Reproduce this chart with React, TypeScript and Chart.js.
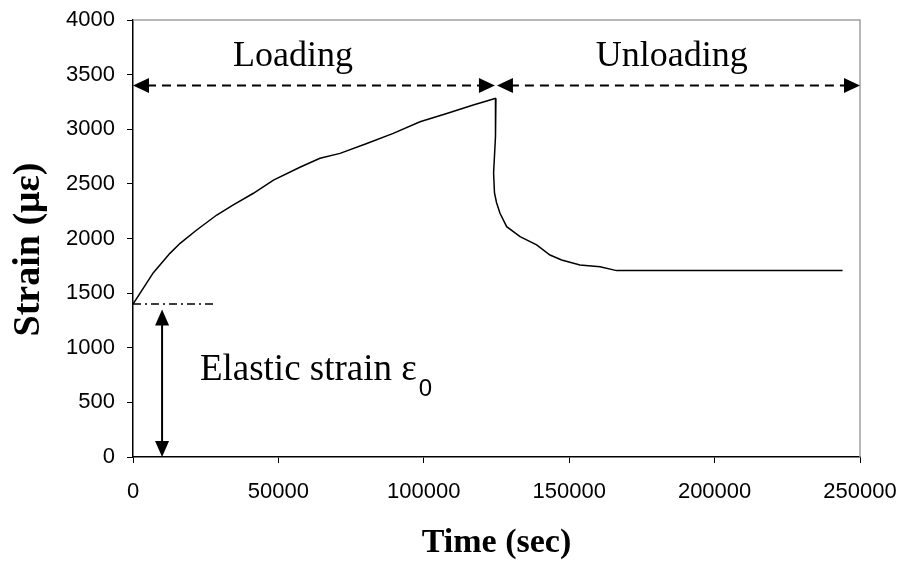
import React, { useEffect, useRef } from "react";
import { Chart, registerables } from "chart.js";

Chart.register(...registerables);

// ---- Data ----
const loadTime = [0, 7000, 12700, 16200, 21900, 28800, 34500, 41400, 48300, 57400, 64300, 71200, 80400, 89500, 98700, 107900, 117000, 124800];
const loadStrain = [1400, 1687, 1864, 1956, 2078, 2215, 2307, 2414, 2535, 2652, 2734, 2779, 2870, 2962, 3069, 3145, 3222, 3283];
const unloadTime = [124800, 124800, 124500, 124000, 124300, 125000, 126200, 128500, 133100, 138800, 143400, 147400, 153700, 160600, 166300, 244000];
const unloadStrain = [3283, 3146, 2932, 2600, 2420, 2330, 2231, 2108, 2017, 1941, 1849, 1803, 1757, 1742, 1706, 1706];

const xTicks = [0, 50000, 100000, 150000, 200000, 250000];
const yTicks = [0, 500, 1000, 1500, 2000, 2500, 3000, 3500, 4000];

// ---- Annotation anchors (data units) ----
const phaseArrowY = 3400;
const phaseBoundary = 124800;
const phaseEnd = 250000;
const phaseLabels = ["Loading", "Unloading"];
const phaseLabelX = [55000, 185300];
const phaseLabelY = 3580;
const elasticStrain = 1400;
const elasticDashEnd = 28800;
const elasticArrowX = 10000;
const elasticArrowTop = 1350;
const elasticLabel = "Elastic strain \u03b5";
const elasticSub = "0";
const elasticLabelX = 23000;
const elasticLabelY = 705;

const xTitle = "Time (sec)";
const yTitle = "Strain (\u03bc\u03b5)";

function arrowHead(ctx: CanvasRenderingContext2D, tx: number, ty: number, dx: number, dy: number, L = 16, W = 7.5) {
  const bx = tx - dx * L;
  const by = ty - dy * L;
  const pxp = -dy;
  const pyp = dx;
  ctx.beginPath();
  ctx.moveTo(tx, ty);
  ctx.lineTo(bx + pxp * W, by + pyp * W);
  ctx.lineTo(bx - pxp * W, by - pyp * W);
  ctx.closePath();
  ctx.fill();
}

const annotPlugin = {
  id: "annot",
  afterDatasetsDraw(chart: any) {
    const { ctx, chartArea } = chart;
    const xs = chart.scales.x;
    const ys = chart.scales.y;
    const px = (v: number) => xs.getPixelForValue(v);
    const py = (v: number) => ys.getPixelForValue(v);
    ctx.save();

    // plot frame (top/right)
    ctx.strokeStyle = "#a0a0a0";
    ctx.lineWidth = 1.5;
    ctx.beginPath();
    ctx.moveTo(chartArea.left, chartArea.top);
    ctx.lineTo(chartArea.right, chartArea.top);
    ctx.lineTo(chartArea.right, chartArea.bottom);
    ctx.stroke();

    ctx.strokeStyle = "#000";
    ctx.fillStyle = "#000";

    // phase arrows
    const yA = py(phaseArrowY);
    const x0 = px(0);
    const xb = px(phaseBoundary);
    const xe = px(phaseEnd);
    ctx.lineWidth = 2;
    ctx.setLineDash([9, 6]);
    ctx.beginPath();
    ctx.moveTo(x0 + 14, yA);
    ctx.lineTo(xb - 14, yA);
    ctx.moveTo(xb + 14, yA);
    ctx.lineTo(xe - 14, yA);
    ctx.stroke();
    ctx.setLineDash([]);
    arrowHead(ctx, x0, yA, -1, 0);
    arrowHead(ctx, xb - 1, yA, 1, 0);
    arrowHead(ctx, xb + 1, yA, -1, 0);
    arrowHead(ctx, xe, yA, 1, 0);

    // elastic dash-dot line
    const yE = py(elasticStrain);
    ctx.lineWidth = 1.5;
    ctx.setLineDash([8, 4, 2, 4]);
    ctx.beginPath();
    ctx.moveTo(x0, yE);
    ctx.lineTo(px(elasticDashEnd), yE);
    ctx.stroke();
    ctx.setLineDash([]);

    // vertical double arrow
    const xv = px(elasticArrowX);
    const yTop = py(elasticArrowTop);
    const yBot = py(0);
    ctx.lineWidth = 2;
    ctx.beginPath();
    ctx.moveTo(xv, yTop + 10);
    ctx.lineTo(xv, yBot - 10);
    ctx.stroke();
    arrowHead(ctx, xv, yTop, 0, -1, 16, 7);
    arrowHead(ctx, xv, yBot, 0, 1, 16, 7);

    // labels
    ctx.font = "36px 'Liberation Serif'";
    ctx.textBaseline = "alphabetic";
    ctx.textAlign = "center";
    phaseLabels.forEach((t, i) => ctx.fillText(t, px(phaseLabelX[i]), py(phaseLabelY)));

    ctx.font = "37px 'Liberation Serif'";
    ctx.textAlign = "left";
    const ex = px(elasticLabelX);
    const ey = py(elasticLabelY);
    ctx.fillText(elasticLabel, ex, ey);
    const w = ctx.measureText(elasticLabel).width;
    ctx.font = "24px 'Liberation Sans'";
    ctx.fillText(elasticSub, ex + w + 2, ey + 16);

    // y title
    ctx.font = "bold 38px 'Liberation Serif'";
    ctx.textAlign = "center";
    ctx.textBaseline = "middle";
    ctx.translate(29, (chartArea.top + chartArea.bottom) / 2 + 11);
    ctx.rotate(-Math.PI / 2);
    ctx.fillText(yTitle, 0, 0);

    ctx.restore();
  },
};

export default function App() {
  const ref = useRef<HTMLCanvasElement | null>(null);

  useEffect(() => {
    if (!ref.current) return;
    const chart = new Chart(ref.current, {
      type: "scatter",
      data: {
        datasets: [
          {
            label: "Loading",
            data: loadTime.map((t, i) => ({ x: t, y: loadStrain[i] })),
            showLine: true,
            borderColor: "#000",
            borderWidth: 1.5,
            pointRadius: 0,
            tension: 0,
          },
          {
            label: "Unloading",
            data: unloadTime.map((t, i) => ({ x: t, y: unloadStrain[i] })),
            showLine: true,
            borderColor: "#000",
            borderWidth: 1.5,
            pointRadius: 0,
            tension: 0,
          },
        ],
      },
      options: {
        responsive: false,
        animation: false,
        devicePixelRatio: 1,
        layout: { padding: { left: 0, top: 20, right: 41, bottom: 0 } },
        plugins: { legend: { display: false }, tooltip: { enabled: false } },
        scales: {
          x: {
            type: "linear",
            min: xTicks[0],
            max: xTicks[xTicks.length - 1],
            afterBuildTicks: (s: any) => {
              s.ticks = xTicks.map((v) => ({ value: v }));
            },
            afterFit: (s: any) => {
              s.height = 107;
              s.paddingLeft = 0;
              s.paddingRight = 0;
            },
            ticks: {
              callback: (v: any) => String(v),
              color: "#000",
              font: { family: "'Liberation Sans'", size: 22 },
              padding: 16,
              maxRotation: 0,
              autoSkip: false,
            },
            grid: { display: true, drawOnChartArea: false, drawTicks: true, tickLength: 6, color: "#000", lineWidth: 1 },
            border: { display: true, color: "#000", width: 1.5 },
            title: {
              display: true,
              text: xTitle,
              color: "#000",
              font: { family: "'Liberation Serif'", size: 34, weight: "bold" },
              padding: { top: 0, bottom: 0 },
            },
          },
          y: {
            type: "linear",
            min: yTicks[0],
            max: yTicks[yTicks.length - 1],
            afterBuildTicks: (s: any) => {
              s.ticks = yTicks.map((v) => ({ value: v }));
            },
            afterFit: (s: any) => {
              s.width = 133;
              s.paddingTop = 0;
              s.paddingBottom = 0;
            },
            ticks: {
              callback: (v: any) => String(v),
              color: "#000",
              font: { family: "'Liberation Sans'", size: 22 },
              padding: 12,
              autoSkip: false,
            },
            grid: { display: true, drawOnChartArea: false, drawTicks: true, tickLength: 6, color: "#000", lineWidth: 1 },
            border: { display: true, color: "#000", width: 1.5 },
            title: { display: false },
          },
        },
      },
      plugins: [annotPlugin],
    } as any);
    return () => chart.destroy();
  }, []);

  return (
    <div style={{ position: "absolute", left: 0, top: 0, width: 901, height: 564, background: "#fff" }}>
      <canvas ref={ref} width={901} height={564} />
    </div>
  );
}
